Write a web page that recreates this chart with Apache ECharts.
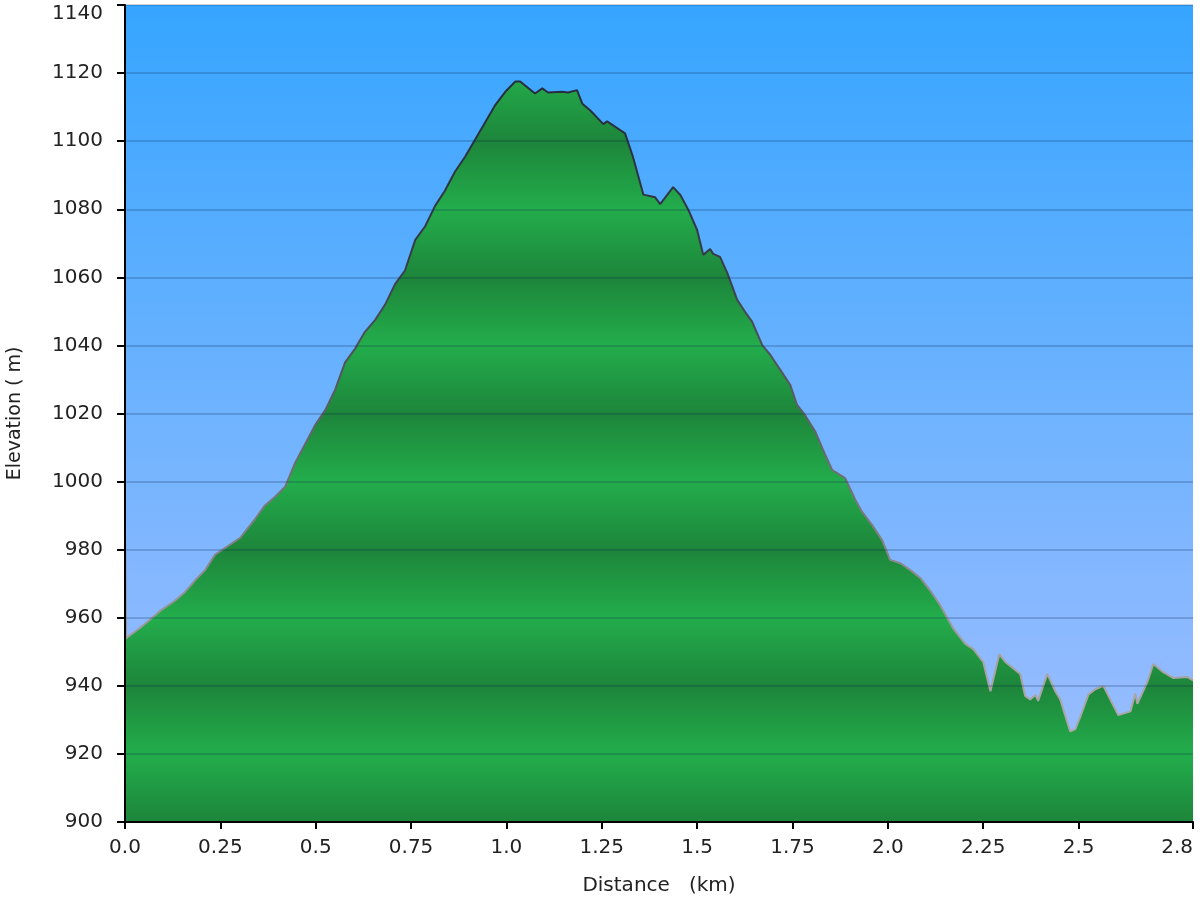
<!DOCTYPE html>
<html>
<head>
<meta charset="utf-8">
<script src="https://cdn.jsdelivr.net/npm/echarts@6/dist/echarts.min.js"></script>
<style>
html,body{margin:0;padding:0;background:#fff;}
#chart{width:1200px;height:900px;}
</style>
</head>
<body>
<div id="chart"></div>
<script>
// Distance along route (km)
const distances = [
  0.000, 0.003, 0.039, 0.066, 0.092, 0.131, 0.157, 0.184, 0.210, 0.236, 0.262,
  0.302, 0.341, 0.367, 0.393, 0.420, 0.446, 0.472, 0.498, 0.525, 0.551, 0.577,
  0.603, 0.629, 0.656, 0.682, 0.708, 0.734, 0.761, 0.787, 0.813, 0.839, 0.865,
  0.892, 0.918, 0.944, 0.970, 0.997, 1.023, 1.036, 1.075, 1.094, 1.109, 1.146,
  1.162, 1.185, 1.199, 1.220, 1.254, 1.264, 1.311, 1.332, 1.359, 1.390, 1.403,
  1.437, 1.456, 1.477, 1.500, 1.516, 1.534, 1.542, 1.560, 1.579, 1.605, 1.626,
  1.644, 1.671, 1.692, 1.718, 1.744, 1.762, 1.783, 1.810, 1.836, 1.854, 1.888,
  1.915, 1.933, 1.959, 1.985, 2.006, 2.033, 2.059, 2.085, 2.111, 2.137, 2.172,
  2.203, 2.224, 2.250, 2.269, 2.292, 2.308, 2.347, 2.360, 2.373, 2.387, 2.394,
  2.418, 2.439, 2.452, 2.478, 2.491, 2.505, 2.526, 2.544, 2.565, 2.604, 2.636,
  2.649, 2.654, 2.680, 2.696, 2.722, 2.749, 2.785, 2.800
];
// Elevation (m)
const elevations = [
  984, 954, 957, 959.5, 962, 965, 967.5, 971, 974, 978.5, 980.5,
  983.5, 989, 993, 995.5, 998.5, 1005.5, 1011, 1016.5, 1021, 1027, 1035,
  1039, 1044, 1047.5, 1052, 1058, 1062, 1071, 1075, 1081, 1085.5, 1091,
  1095.5, 1100.5, 1105.5, 1110.5, 1114.5, 1117.5, 1117.5, 1114, 1115.5, 1114.3, 1114.5,
  1114.3, 1115, 1111, 1109, 1105, 1105.8, 1102.3, 1095.3, 1084.3, 1083.5, 1081.5,
  1086.5, 1084.2, 1079.8, 1073.9, 1066.6, 1068.3, 1066.9, 1066, 1061.3, 1053.4, 1049.8,
  1047, 1040, 1037.2, 1032.8, 1028.4, 1022.5, 1019.5, 1014.6, 1007.8, 1003.4, 1001,
  994.6, 991, 987.2, 982.8, 977, 976, 974, 971.7, 968, 963.7, 956.7,
  952.3, 950.8, 947, 938.4, 949.3, 947, 943.5, 937, 936, 937.3, 935.6,
  943.5, 938.4, 936, 926.6, 927.2, 931, 937.5, 939, 940, 931.4, 932.5,
  937.8, 934.7, 941, 946.4, 944, 942.3, 942.6, 941.6
];
// Axis ticks
const xTickValues = [0, 0.25, 0.5, 0.75, 1, 1.25, 1.5, 1.75, 2, 2.25, 2.5, 2.8];
const xTickLabels = ['0.0', '0.25', '0.5', '0.75', '1.0', '1.25', '1.5', '1.75', '2.0', '2.25', '2.5', '2.8'];
const yMin = 900, yMax = 1140, yStep = 20;

const seriesData = distances.map((d, i) => [d, elevations[i]]);
const FONT = 'DejaVu Sans';

const chart = echarts.init(document.getElementById('chart'), null, {renderer: 'canvas'});

function fmtX(v) {
  const i = xTickValues.findIndex(t => Math.abs(t - v) < 1e-6);
  return i >= 0 ? xTickLabels[i] : '';
}
function fmtY(v) {
  return v === yMax ? '{top|' + v + '}' : String(v);
}

const option = {
  animation: false,
  backgroundColor: '#ffffff',
  grid: {
    left: 125, right: 7, top: 5, bottom: 78,
    containLabel: false, outerBoundsMode: 'none',
    show: true, borderWidth: 0,
    backgroundColor: new echarts.graphic.LinearGradient(0, 0, 0, 1, [
      {offset: 0, color: '#36a5ff'},
      {offset: 0.5, color: '#6fb3ff'},
      {offset: 1, color: '#a3beff'}
    ])
  },
  xAxis: {
    type: 'value', min: 0, max: 2.8, interval: 0.25, z: 5,
    name: 'Distance   (km)', nameLocation: 'middle', nameGap: 54,
    nameTextStyle: {fontFamily: FONT, fontSize: 20, color: '#222'},
    axisLine: {show: true, onZero: false, lineStyle: {color: '#000', width: 2}},
    axisTick: {show: true, length: 7, lineStyle: {color: '#000', width: 2}, customValues: xTickValues},
    axisLabel: {fontFamily: FONT, fontSize: 20, color: '#222', margin: 16, formatter: fmtX,
      customValues: xTickValues, showMaxLabel: true, showMinLabel: true, alignMaxLabel: 'right'},
    splitLine: {show: false}
  },
  yAxis: {
    type: 'value', min: yMin, max: yMax, interval: yStep, z: 5,
    name: 'Elevation ( m)', nameLocation: 'middle', nameGap: 100, nameRotate: 90,
    nameTextStyle: {fontFamily: FONT, fontSize: 19, color: '#222'},
    axisLine: {show: true, lineStyle: {color: '#000', width: 2}},
    axisTick: {show: true, length: 8, lineStyle: {color: '#000', width: 2}},
    axisLabel: {fontFamily: FONT, fontSize: 20, color: '#222', margin: 22, formatter: fmtY,
      rich: {top: {fontFamily: FONT, fontSize: 20, color: '#222', padding: [18, 0, 0, 0]}}},
    splitLine: {show: true, lineStyle: {color: 'rgba(10,40,80,0.28)', width: 1.5}}
  },
  series: [{
    type: 'line',
    data: seriesData,
    showSymbol: false,
    symbol: 'none',
    z: 2,
    lineStyle: {width: 2, color: '#333'},
    areaStyle: {color: '#1f9a44', opacity: 1}
  }]
};
chart.setOption(option);

// Build pixel-anchored banded gradients from the axis scale
const yTopPx = chart.convertToPixel({yAxisIndex: 0}, yMax);
const yBotPx = chart.convertToPixel({yAxisIndex: 0}, yMin);
const nBands = (yMax - yMin) / yStep;
const stops = [];
for (let k = 0; k <= nBands; k++) {
  stops.push({offset: k / nBands, color: (k % 2 === 0) ? '#1d853a' : '#23ad4c'});
}
chart.setOption({
  series: [{
    areaStyle: {
      color: new echarts.graphic.LinearGradient(0, yTopPx, 0, yBotPx, stops, true),
      opacity: 1
    },
    lineStyle: {
      width: 2,
      color: new echarts.graphic.LinearGradient(0, yTopPx, 0, yBotPx, [
        {offset: 0, color: '#1f2738'},
        {offset: 0.3, color: '#353a47'},
        {offset: 0.55, color: '#6a6870'},
        {offset: 0.8, color: '#a6a2a2'},
        {offset: 1, color: '#b2aeae'}
      ], true)
    }
  }]
});
</script>
</body>
</html>
